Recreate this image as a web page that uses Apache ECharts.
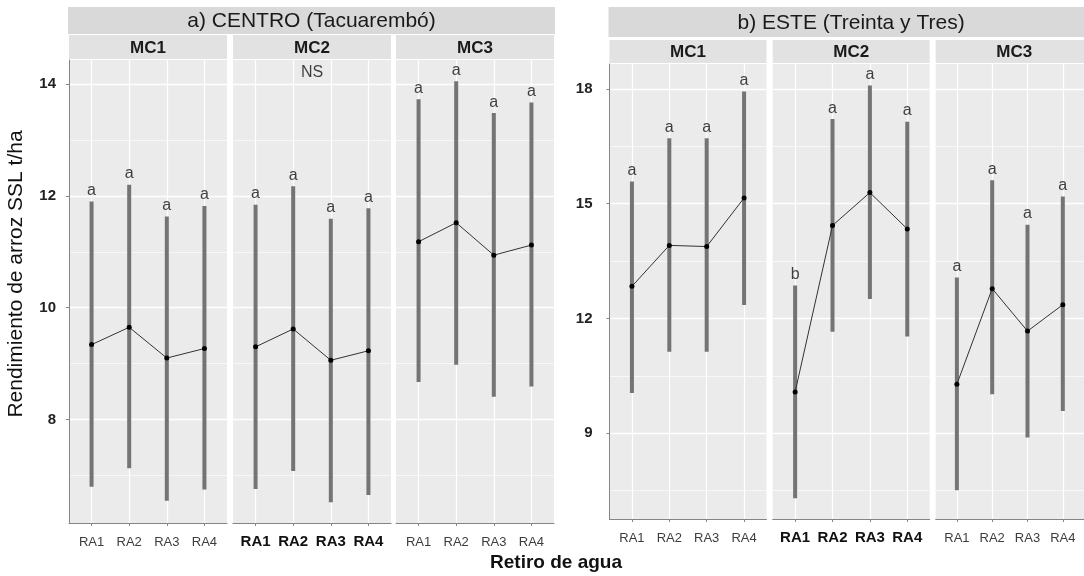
<!DOCTYPE html>
<html>
<head>
<meta charset="utf-8">
<title>Rendimiento de arroz SSL</title>
<script src="https://cdn.jsdelivr.net/npm/echarts@6.0.0/dist/echarts.min.js"></script>
<style>
  html, body { margin:0; padding:0; background:#fff; }
  #chart { width:1084px; height:576px; }
</style>
</head>
<body>
<div id="chart"></div>
<script>
var categories = ['RA1', 'RA2', 'RA3', 'RA4'];
var facetNames = ['MC1', 'MC2', 'MC3'];
var regionNames = ['a) CENTRO (Tacuarembó)', 'b) ESTE (Treinta y Tres)'];

// a) CENTRO - one row per MC1, MC2, MC3
var centroHigh = [[11.90, 12.20, 11.63, 11.82], [11.84, 12.17, 11.59, 11.78], [13.73, 14.05, 13.48, 13.67]];
var centroMean = [[9.34, 9.65, 9.10, 9.27], [9.30, 9.62, 9.06, 9.23], [11.18, 11.52, 10.94, 11.12]];
var centroLow = [[6.80, 7.13, 6.55, 6.75], [6.76, 7.08, 6.52, 6.65], [8.67, 8.98, 8.41, 8.59]];
var centroLetters = [['a', 'a', 'a', 'a'], ['a', 'a', 'a', 'a'], ['a', 'a', 'a', 'a']];
var centroTicks = [8, 10, 12, 14];
var centroMinor = [7, 9, 11, 13];

// b) ESTE
var esteHigh = [[15.58, 16.71, 16.71, 17.93], [12.86, 17.21, 18.09, 17.14], [13.07, 15.61, 14.45, 15.19]];
var esteMean = [[12.84, 13.91, 13.88, 15.15], [10.08, 14.43, 15.29, 14.34], [10.28, 12.78, 11.67, 12.36]];
var esteLow = [[10.05, 11.13, 11.13, 12.35], [7.30, 11.65, 12.51, 11.53], [7.51, 10.02, 8.89, 9.58]];
var esteLetters = [['a', 'a', 'a', 'a'], ['b', 'a', 'a', 'a'], ['a', 'a', 'a', 'a']];
var esteTicks = [9, 12, 15, 18];
var esteMinor = [7.5, 10.5, 13.5, 16.5];

// "NS" note over CENTRO / MC2
var nsNote = [2.5, 14.2];

var font = '"Liberation Sans", Arial, sans-serif';

var panels = [
  { name: regionNames[0], high: centroHigh, mean: centroMean, low: centroLow, letters: centroLetters,
    ticks: centroTicks, minor: centroMinor, min: 6.15, max: 14.43,
    lefts: [69, 233, 396], width: 158, top: 60, height: 463,
    stripTop: 7, stripH: 27, facetTop: 35, facetH: 24, labelMargin: 13 },
  { name: regionNames[1], high: esteHigh, mean: esteMean, low: esteLow, letters: esteLetters,
    ticks: esteTicks, minor: esteMinor, min: 6.76, max: 18.65,
    lefts: [609.5, 772.7, 935.7], width: 157, top: 64, height: 455,
    stripTop: 7, stripH: 30, facetTop: 40, facetH: 23, labelMargin: 17 }
];

var grids = [], xAxes = [], yAxes = [], series = [], graphics = [];

function errorBar(params, api){
  var p1 = api.coord([api.value(0), api.value(1)]);
  var p2 = api.coord([api.value(0), api.value(2)]);
  return {
    type: 'line',
    shape: { x1: p1[0], y1: p1[1], x2: p2[0], y2: p2[1] },
    style: { stroke: '#747474', lineWidth: 4 }
  };
}

panels.forEach(function(p, pi){
  var left = p.lefts[0], right = p.lefts[2] + p.width;

  // region strip
  graphics.push({ type: 'rect', shape: { x: left - 1, y: p.stripTop, width: right - left + 2, height: p.stripH },
    style: { fill: '#d9d9d9' } });
  graphics.push({ type: 'text', x: (left + right) / 2, y: p.stripTop + p.stripH / 2 + 1,
    style: { text: p.name, font: '21px ' + font, fill: '#1a1a1a', align: 'center', verticalAlign: 'middle' } });

  for (var f = 0; f < 3; f++){
    var g = grids.length;
    var first = f == 0;
    var boldX = f == 1;

    graphics.push({ type: 'rect', shape: { x: p.lefts[f], y: p.facetTop, width: p.width, height: p.facetH },
      style: { fill: '#e2e2e2' } });
    graphics.push({ type: 'text', x: p.lefts[f] + p.width / 2, y: p.facetTop + p.facetH / 2 + 1,
      style: { text: facetNames[f], font: 'bold 17px ' + font, fill: '#1a1a1a', align: 'center', verticalAlign: 'middle' } });

    grids.push({ left: p.lefts[f], top: p.top, width: p.width, height: p.height,
      show: true, backgroundColor: '#ebebeb', borderWidth: 0 });

    xAxes.push({
      type: 'value', gridIndex: g, min: 0.4, max: 4.6,
      axisLine: { show: true, lineStyle: { color: '#858585', width: 1 } },
      axisTick: { show: true, length: 3, customValues: [1, 2, 3, 4], lineStyle: { color: '#858585' } },
      axisLabel: {
        customValues: [1, 2, 3, 4],
        formatter: function(v){ return categories[Math.round(v) - 1]; },
        margin: boldX ? 11 : 13,
        fontSize: boldX ? 15 : 13,
        fontWeight: boldX ? 'bold' : 'normal',
        color: boldX ? '#111' : '#3d3d3d',
        fontFamily: font
      },
      splitLine: { show: true, lineStyle: { color: '#ffffff', width: 1.2 } }
    });

    // major y
    yAxes.push({
      type: 'value', gridIndex: g, min: p.min, max: p.max,
      axisLine: { show: first, lineStyle: { color: '#858585', width: 1 } },
      axisTick: { show: first, length: 3, customValues: p.ticks, lineStyle: { color: '#858585' } },
      axisLabel: { show: first, customValues: p.ticks, fontSize: 15, fontWeight: 'bold', color: '#222',
        margin: p.labelMargin, fontFamily: font },
      splitLine: { show: true, lineStyle: { color: '#ffffff', width: 1.3 } }
    });
    // minor y grid
    yAxes.push({
      type: 'value', gridIndex: g, min: p.min, max: p.max,
      axisLine: { show: false },
      axisTick: { show: false, customValues: p.minor },
      axisLabel: { show: false, customValues: p.minor },
      splitLine: { show: true, lineStyle: { color: '#fbfbfb', width: 0.8 } }
    });

    var hi = p.high[f], me = p.mean[f], lo = p.low[f], lt = p.letters[f];

    series.push({
      type: 'custom', xAxisIndex: g, yAxisIndex: 2 * g, silent: true,
      data: categories.map(function(c, i){ return [i + 1, lo[i], hi[i]]; }),
      renderItem: errorBar, z: 2
    });

    series.push({
      type: 'line', xAxisIndex: g, yAxisIndex: 2 * g, silent: true,
      data: categories.map(function(c, i){ return [i + 1, me[i]]; }),
      symbol: 'circle', symbolSize: 5,
      itemStyle: { color: '#000' },
      lineStyle: { color: '#333', width: 1 },
      z: 3
    });

    series.push({
      type: 'scatter', xAxisIndex: g, yAxisIndex: 2 * g, silent: true,
      data: categories.map(function(c, i){ return [i + 1, hi[i]]; }),
      symbolSize: 0,
      label: {
        show: true, position: 'top', distance: 3,
        formatter: (function(letters){ return function(d){ return letters[d.dataIndex]; }; })(lt),
        fontSize: 16, color: '#111', fontFamily: font
      },
      z: 4
    });

    if (pi == 0 && f == 1){
      series.push({
        type: 'scatter', xAxisIndex: g, yAxisIndex: 2 * g, silent: true,
        data: [nsNote], symbolSize: 0,
        label: { show: true, position: 'inside', formatter: 'NS', fontSize: 16, color: '#111', fontFamily: font }
      });
    }
  }
});

graphics.push({ type: 'text', x: 16, y: 274, rotation: Math.PI / 2,
  style: { text: 'Rendimiento de arroz SSL t/ha', font: '21px ' + font, fill: '#111',
    align: 'center', verticalAlign: 'middle' } });
graphics.push({ type: 'text', x: 556, y: 563,
  style: { text: 'Retiro de agua', font: 'bold 19px ' + font, fill: '#111',
    align: 'center', verticalAlign: 'middle' } });

var myChart = echarts.init(document.getElementById('chart'), null, { renderer: 'canvas' });
myChart.setOption({
  animation: false,
  backgroundColor: '#ffffff',
  textStyle: { fontFamily: font },
  grid: grids,
  xAxis: xAxes,
  yAxis: yAxes,
  series: series,
  graphic: graphics
});
</script>
</body>
</html>
